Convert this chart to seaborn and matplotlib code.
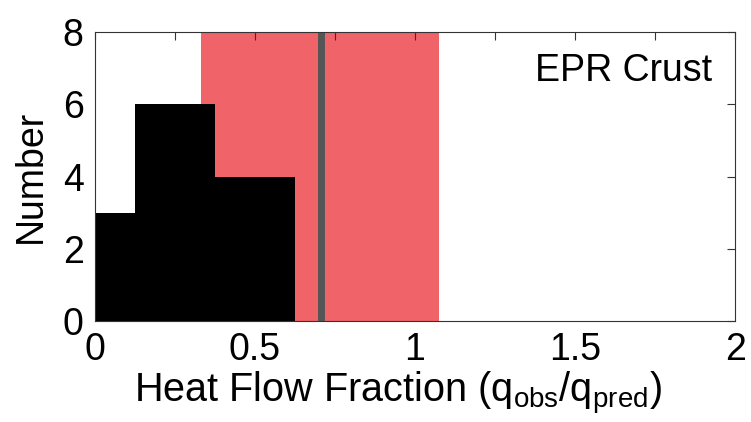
import numpy as np
import pandas as pd
import matplotlib
matplotlib.use("Agg")
import matplotlib.pyplot as plt
import seaborn as sns
from matplotlib.ticker import MultipleLocator

# Data
bin_edges = [0.0, 0.125, 0.25, 0.375, 0.5, 0.625]
counts = [3, 6, 6, 4, 4]
span_range = [0.332, 1.076]
mean_value = 0.706
label_text = "EPR Crust"

bin_centers = [(a + b) / 2 for a, b in zip(bin_edges[:-1], bin_edges[1:])]
df = pd.DataFrame({"frac": bin_centers, "n": counts})

sns.set_theme(style="white")
plt.rcParams['font.family'] = ['Liberation Sans', 'DejaVu Sans']
plt.rcParams['mathtext.default'] = 'regular'

fig = plt.figure(figsize=(7.51, 4.22), dpi=100)
ax = fig.add_axes([0.126, 0.239, 0.853, 0.685])

ax.axvspan(span_range[0], span_range[1], color='#F06368', lw=0, zorder=0)
sns.histplot(data=df, x="frac", weights="n", bins=bin_edges, ax=ax,
             color='black', alpha=1, linewidth=0, edgecolor='black', zorder=2)
ax.axvline(mean_value, color='#555555', lw=5, zorder=3)

ax.set_xlim(0, 2)
ax.set_ylim(0, 8)
ax.xaxis.set_minor_locator(MultipleLocator(0.25))
ax.yaxis.set_major_locator(MultipleLocator(2))
ax.set_xticks([0, 0.5, 1, 1.5, 2])
ax.set_xticklabels(['0', '0.5', '1', '1.5', '2'])
ax.tick_params(axis='both', which='both', direction='in', top=True, right=True,
               labelsize=27, color='#333333', width=0.8, labelcolor='black')
ax.tick_params(axis='both', which='major', length=6, pad=8)
ax.tick_params(axis='both', which='minor', length=6)

for s in ax.spines.values():
    s.set_color('#333333')
    s.set_linewidth(0.8)
    s.set_zorder(5)

ax.set_xlabel("Heat Flow Fraction (q$_{obs}$/q$_{pred}$)", fontsize=28.5, labelpad=3, color='black')
ax.xaxis.set_label_coords(0.474, -0.169)
ax.xaxis.label.set_va('top')
ax.set_ylabel("Number", fontsize=27, labelpad=10, color='black')
ax.text(1.927, 6.93, label_text, fontsize=27, ha='right', va='center', color='black')

fig.savefig("out.png", dpi=100)
